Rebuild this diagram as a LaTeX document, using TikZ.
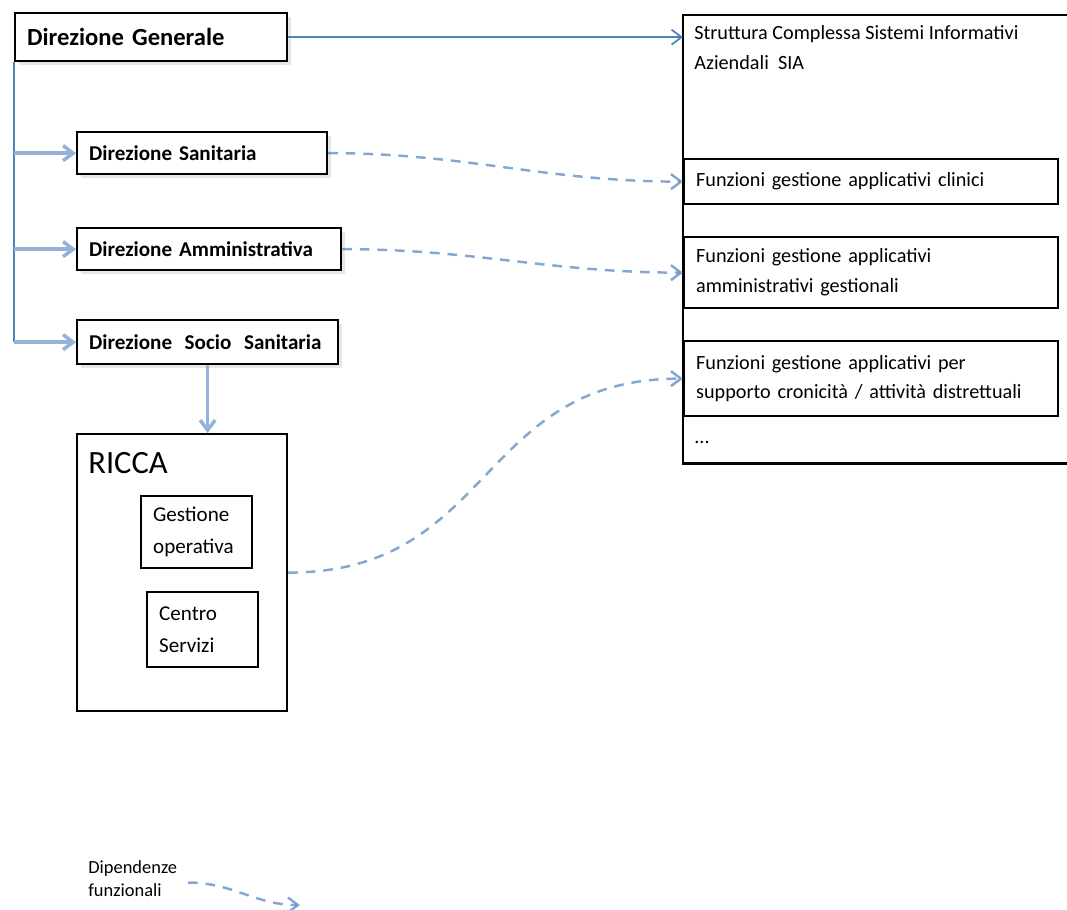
\documentclass[tikz,border=0pt]{standalone}
\usepackage{fontspec}
\setmainfont{Carlito}
\usetikzlibrary{arrows.meta,shadows}
\definecolor{linkblue}{RGB}{79,129,189}
\definecolor{paleblue}{RGB}{149,179,215}

\begin{document}
\begin{tikzpicture}[x=0.02cm, y=-0.02cm,
    box/.style={draw=black, line width=1.3pt, fill=white, anchor=north west, align=left, inner xsep=0.24cm, inner ysep=0pt},
    headbox/.style={box, drop shadow={shadow xshift=2pt, shadow yshift=-2pt, opacity=0.2}, font=\fontsize{12}{14}\selectfont\bfseries},
    funcbox/.style={box, minimum width=7.48cm, text width=7cm, font=\fontsize{11.5}{17}\selectfont},
    tip/.style={-{Straight Barb[length=2mm, width=3mm]}},
    solidlink/.style={tip, draw=linkblue, line width=1pt},
    branch/.style={tip, draw=paleblue, line width=2pt},
    deplink/.style={tip, draw=linkblue, draw opacity=0.7, line width=1.4pt, dash pattern=on 5.5pt off 4.5pt}]
        \useasboundingbox (0,0) rectangle (1067,909);

        % direzioni
        \node [headbox, minimum width=5.44cm, minimum height=0.96cm, text width=4.96cm,
               font=\fontsize{14}{16}\selectfont\bfseries] at (14,12)  (dg)  {Direzione Generale};
        \node [headbox, minimum width=5cm, minimum height=0.84cm, text width=4.52cm]    at (76,131) (san) {Direzione Sanitaria};
        \node [headbox, minimum width=5.28cm, minimum height=0.84cm, text width=4.8cm]  at (76,227) (amm) {Direzione Amministrativa};
        \node [headbox, minimum width=5.22cm, minimum height=0.88cm, text width=4.74cm] at (76,319) (soc)
            {Direzione\hspace{0.6em}Socio\hspace{0.6em}Sanitaria};

        % SIA
        \node [anchor=north west, minimum width=7.68cm, minimum height=8.96cm, inner sep=0pt] at (683,15) (sia) {};
        \draw [line width=1.3pt] (sia.north east) -- (sia.north west) -- (sia.south west) -- (sia.south east);
        \node [anchor=north west, align=left, inner sep=0pt, font=\fontsize{11.5}{17}\selectfont] at (694,25) (siatext)
            {Struttura Complessa Sistemi Informativi\\Aziendali\ \ SIA};
        \node [funcbox, minimum height=0.9cm]  at (683,158) (clin) {Funzioni gestione applicativi clinici};
        \node [funcbox, minimum height=1.42cm] at (683,236) (admf) {Funzioni gestione applicativi\\amministrativi gestionali};
        \node [funcbox, minimum height=1.5cm]  at (683,340) (cron) {Funzioni gestione applicativi per\\supporto cronicità / attività distrettuali};
        \node [anchor=west, inner sep=0pt, font=\fontsize{11.5}{12}\selectfont] at (694,442) (more) {...};

        % RICCA
        \node [box, minimum width=4.2cm, minimum height=5.54cm] at (76,433) (ricca) {};
        \node [anchor=west, inner sep=0pt, font=\fontsize{18.5}{20}\selectfont] at (88,463) (riccatext) {RICCA};
        \node [box, minimum width=2.22cm, minimum height=1.44cm, text width=1.74cm,
               font=\fontsize{12}{18}\selectfont] at (140,495) (gest)   {Gestione\\operativa};
        \node [box, minimum width=2.22cm, minimum height=1.5cm, text width=1.74cm,
               font=\fontsize{12}{18}\selectfont] at (146,591) (centro) {Centro\\Servizi};

        % legenda
        \node [anchor=west, align=left, inner sep=0pt, font=\fontsize{10.5}{13}\selectfont] at (88,879) (legend) {Dipendenze\\funzionali};
        \coordinate (legend tip) at (300,905);

        \draw [solidlink] (dg.east) -- (dg.east -| sia.west);
        \draw [linkblue, line width=1pt] (dg.south west) -- (dg.south west |- soc.west);
        \draw [branch] (dg.south west |- san.west) -- (san.west);
        \draw [branch] (dg.south west |- amm.west) -- (amm.west);
        \draw [branch] (dg.south west |- soc.west) -- (soc.west);
        \draw [branch] (soc.south) -- (soc.south |- ricca.north);
        \draw [deplink] (san.east) to[out=0, in=180] (clin.west);
        \draw [deplink] (amm.east) to[out=0, in=180] (admf.west);
        \draw [deplink] (ricca.east) to[out=0, in=180, looseness=1.2] (cron.west);
        \draw [deplink] ([xshift=6pt, yshift=-2pt]legend.east) to[out=0, in=180] (legend tip);
\end{tikzpicture}
\end{document}
